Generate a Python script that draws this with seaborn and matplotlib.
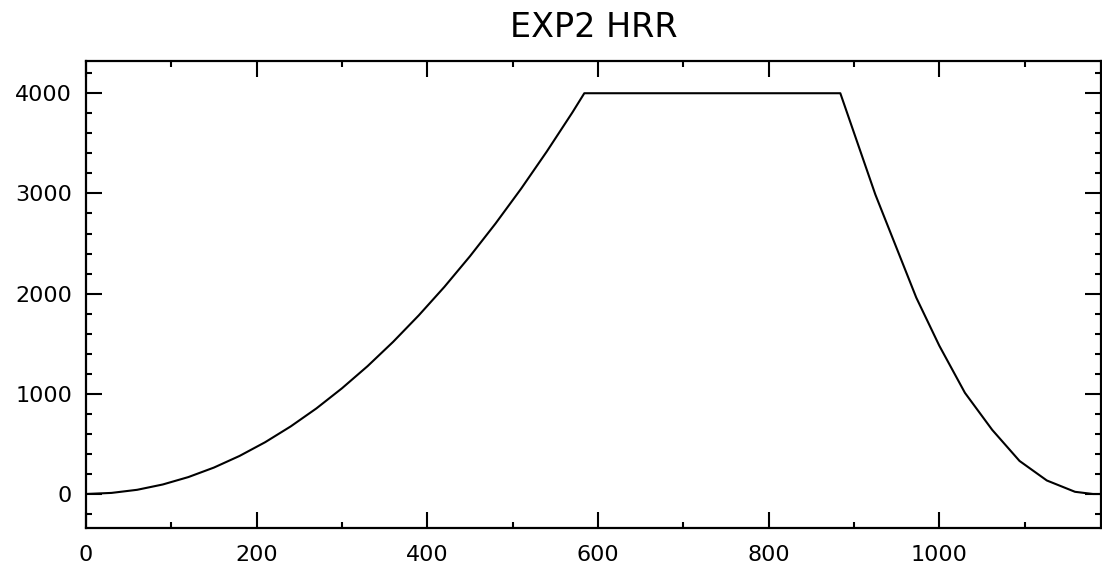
import matplotlib
matplotlib.use("Agg")
import matplotlib.pyplot as plt
from matplotlib.ticker import MultipleLocator
import pandas as pd
import seaborn as sns

# Heat release rate ramp for EXP2 (time in s, HRR in kW)
time_s = [0, 30, 60, 90, 120, 150, 180, 210, 240, 270, 300, 330, 360, 390,
          420, 450, 480, 510, 540, 570, 584,
          884, 925, 973, 1000, 1030, 1062, 1094, 1126, 1159, 1180, 1190]
hrr_kw = [0, 11, 42, 95, 169, 264, 380, 517, 675, 854, 1055, 1276, 1519, 1783,
          2067, 2373, 2700, 3048, 3418, 3808, 4000,
          4000, 2990, 1960, 1480, 1010, 640, 330, 135, 22, 0, 0]

title_text = "EXP2 HRR"
x_range = (0, 1190)
y_range = (-342, 4325)

df = pd.DataFrame({"t": time_s, "hrr": hrr_kw})

sns.set_theme(style="ticks")
plt.rcParams["font.family"] = ["DejaVu Sans"]

fig = plt.figure(figsize=(11.02, 5.67), dpi=100)
ax = fig.add_axes([0.078, 0.0683, 0.9215, 0.8247])

sns.lineplot(data=df, x="t", y="hrr", ax=ax, color="black", linewidth=1.5,
             sort=False, estimator=None)

ax.set_xlim(*x_range)
ax.set_ylim(*y_range)
ax.set_xlabel("")
ax.set_ylabel("")
ax.set_title(title_text, fontsize=24, pad=17, color="black")

ax.xaxis.set_major_locator(MultipleLocator(200))
ax.xaxis.set_minor_locator(MultipleLocator(100))
ax.yaxis.set_major_locator(MultipleLocator(1000))
ax.yaxis.set_minor_locator(MultipleLocator(200))

ax.tick_params(which="both", direction="in", top=True, right=True,
               color="black", width=1.5)
ax.tick_params(which="major", length=11.5, labelsize=16, labelcolor="black")
ax.tick_params(axis="y", which="major", pad=10)
ax.tick_params(axis="x", which="major", pad=12)
ax.tick_params(which="minor", length=4.5)

for spine in ax.spines.values():
    spine.set_visible(True)
    spine.set_color("black")
    spine.set_linewidth(1.6)

fig.savefig("out.png", dpi=100, facecolor="white")
